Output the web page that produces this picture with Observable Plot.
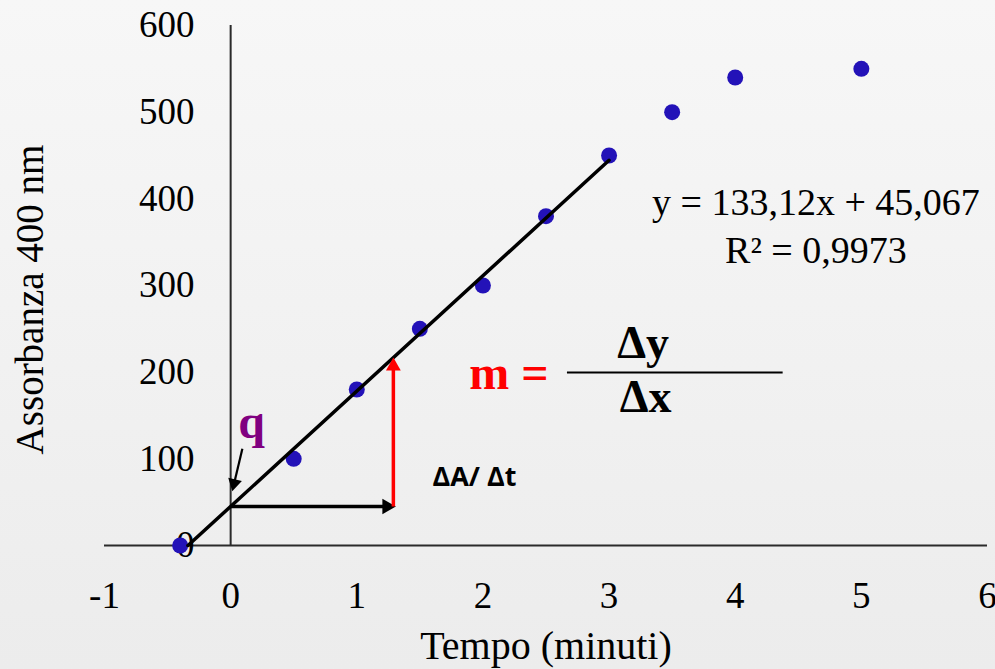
<!DOCTYPE html>
<html><head><meta charset="utf-8">
<script src="https://cdn.jsdelivr.net/npm/d3@7"></script>
<script src="https://cdn.jsdelivr.net/npm/@observablehq/plot@0.6"></script>
<style>
html,body{margin:0;padding:0;}
body{width:995px;height:669px;background:linear-gradient(180deg,#f7f7f7 0%,#ececec 100%);overflow:hidden;}
</style></head><body><div id="chart"></div>
<script>
// ---- data ----
const tempo = [-0.4, 0.5, 1, 1.5, 2, 2.5, 3, 3.5, 4, 5];
const assorbanza = [0, 100, 180, 250, 300, 380, 450, 500, 540, 550];
const xTicks = [-1, 0, 1, 2, 3, 4, 5, 6];
const yTicks = [0, 100, 200, 300, 400, 500, 600];
const slope = 133.12;
const intercept = 45.067;
const fitEndX = 3;
const deltaX = 1.29;
const eqText = "y = 133,12x + 45,067\nR² = 0,9973";
const xLabel = "Tempo (minuti)";
const yLabel = "Assorbanza 400 nm";

const points = tempo.map((x, i) => ({x, y: assorbanza[i]}));
const fit = [{x: -intercept / slope, y: 0}, {x: fitEndX, y: slope * fitEndX + intercept}];
const topY = slope * deltaX + intercept;

const serif = "'Liberation Serif', 'Times New Roman', serif";
const sans = "'Open Sans', 'Liberation Sans', sans-serif";
const tri = (hx, hy, opts) => Plot.dot([{x: hx, y: hy}], {x: "x", y: "y", symbol: "triangle", stroke: "none", ...opts});

const chart = Plot.plot({
  width: 995, height: 669,
  marginLeft: 104, marginRight: 8, marginTop: 25, marginBottom: 124,
  x: {domain: [-1, 6]},
  y: {domain: [0, 600]},
  style: {background: "transparent", fontFamily: serif, color: "#000", overflow: "visible"},
  marks: [
    Plot.ruleY([0], {x1: -1, x2: 6, stroke: "#2a2a2a", strokeWidth: 2}),
    Plot.ruleX([0], {y1: 0, y2: 600, stroke: "#2a2a2a", strokeWidth: 2}),
    Plot.axisX(xTicks, {tickSize: 0, tickPadding: 36, fontSize: 37, tickFormat: d => String(d), label: null}),
    Plot.axisY(yTicks, {anchor: "left", tickSize: 0, tickPadding: 0, dx: 90, fontSize: 37, tickFormat: d => String(d), label: null}),
    Plot.text([xLabel], {frameAnchor: "bottom", lineAnchor: "bottom", dy: 113, fontSize: 40}),
    Plot.text([yLabel], {frameAnchor: "left", rotate: -90, dx: -74, dy: 14, fontSize: 39, textAnchor: "middle", lineAnchor: "middle"}),
    Plot.dot(points, {x: "x", y: "y", r: 8, fill: "#2312b8", stroke: "none"}),
    Plot.line(fit, {x: "x", y: "y", stroke: "#000", strokeWidth: 3.5}),
    // horizontal Δt arrow
    Plot.link([{x1: 0, x2: 1.25, y: intercept}], {x1: "x1", x2: "x2", y1: "y", y2: "y", stroke: "#000", strokeWidth: 3.5}),
    tri(1.31, intercept, {r: 5.8, rotate: 90, dx: -9, fill: "#000"}),
    // vertical ΔA arrow
    Plot.link([{x: deltaX, y1: intercept, y2: topY - 9}], {x1: "x", x2: "x", y1: "y1", y2: "y2", stroke: "#ff0000", strokeWidth: 3.5}),
    tri(deltaX, topY, {r: 5.5, rotate: 0, dy: 8.5, fill: "#ff0000"}),
    // q arrow
    Plot.link([{x1: 0.093, y1: 111.6, x2: 0.025, y2: 70}], {x1: "x1", y1: "y1", x2: "x2", y2: "y2", stroke: "#000", strokeWidth: 2.2}),
    tri(0.013, 62.6, {r: 5.2, rotate: 193, dx: 1.85, dy: -7.9, fill: "#000"}),
    Plot.text(["q"], {x: 0.166, y: 123.5, lineAnchor: "bottom", fontSize: 48, fontWeight: "bold", fill: "#800080"}),
    Plot.text(["ΔA/ Δt"], {x: 1.6, y: 69.2, textAnchor: "start", lineAnchor: "bottom", fontSize: 27, fontWeight: "bold", fontFamily: sans, fill: "#000"}),
    Plot.text(["m ="], {x: 2.52, y: 181, textAnchor: "end", lineAnchor: "bottom", fontSize: 48, fontWeight: "bold", fill: "#ff0000"}),
    Plot.text(["Δy"], {x: 3.27, y: 215.8, lineAnchor: "bottom", fontSize: 46, fontWeight: "bold", fill: "#000"}),
    Plot.ruleY([199.6], {x1: 2.67, x2: 4.38, stroke: "#000", strokeWidth: 2}),
    Plot.text(["Δx"], {x: 3.29, y: 153.5, lineAnchor: "bottom", fontSize: 46, fontWeight: "bold", fill: "#000"}),
    Plot.text([eqText], {x: 4.64, y: 326.5, lineAnchor: "bottom", lineHeight: 1.24, fontSize: 38, fill: "#000"})
  ]
});
document.getElementById("chart").appendChild(chart);
</script>
</body></html>
